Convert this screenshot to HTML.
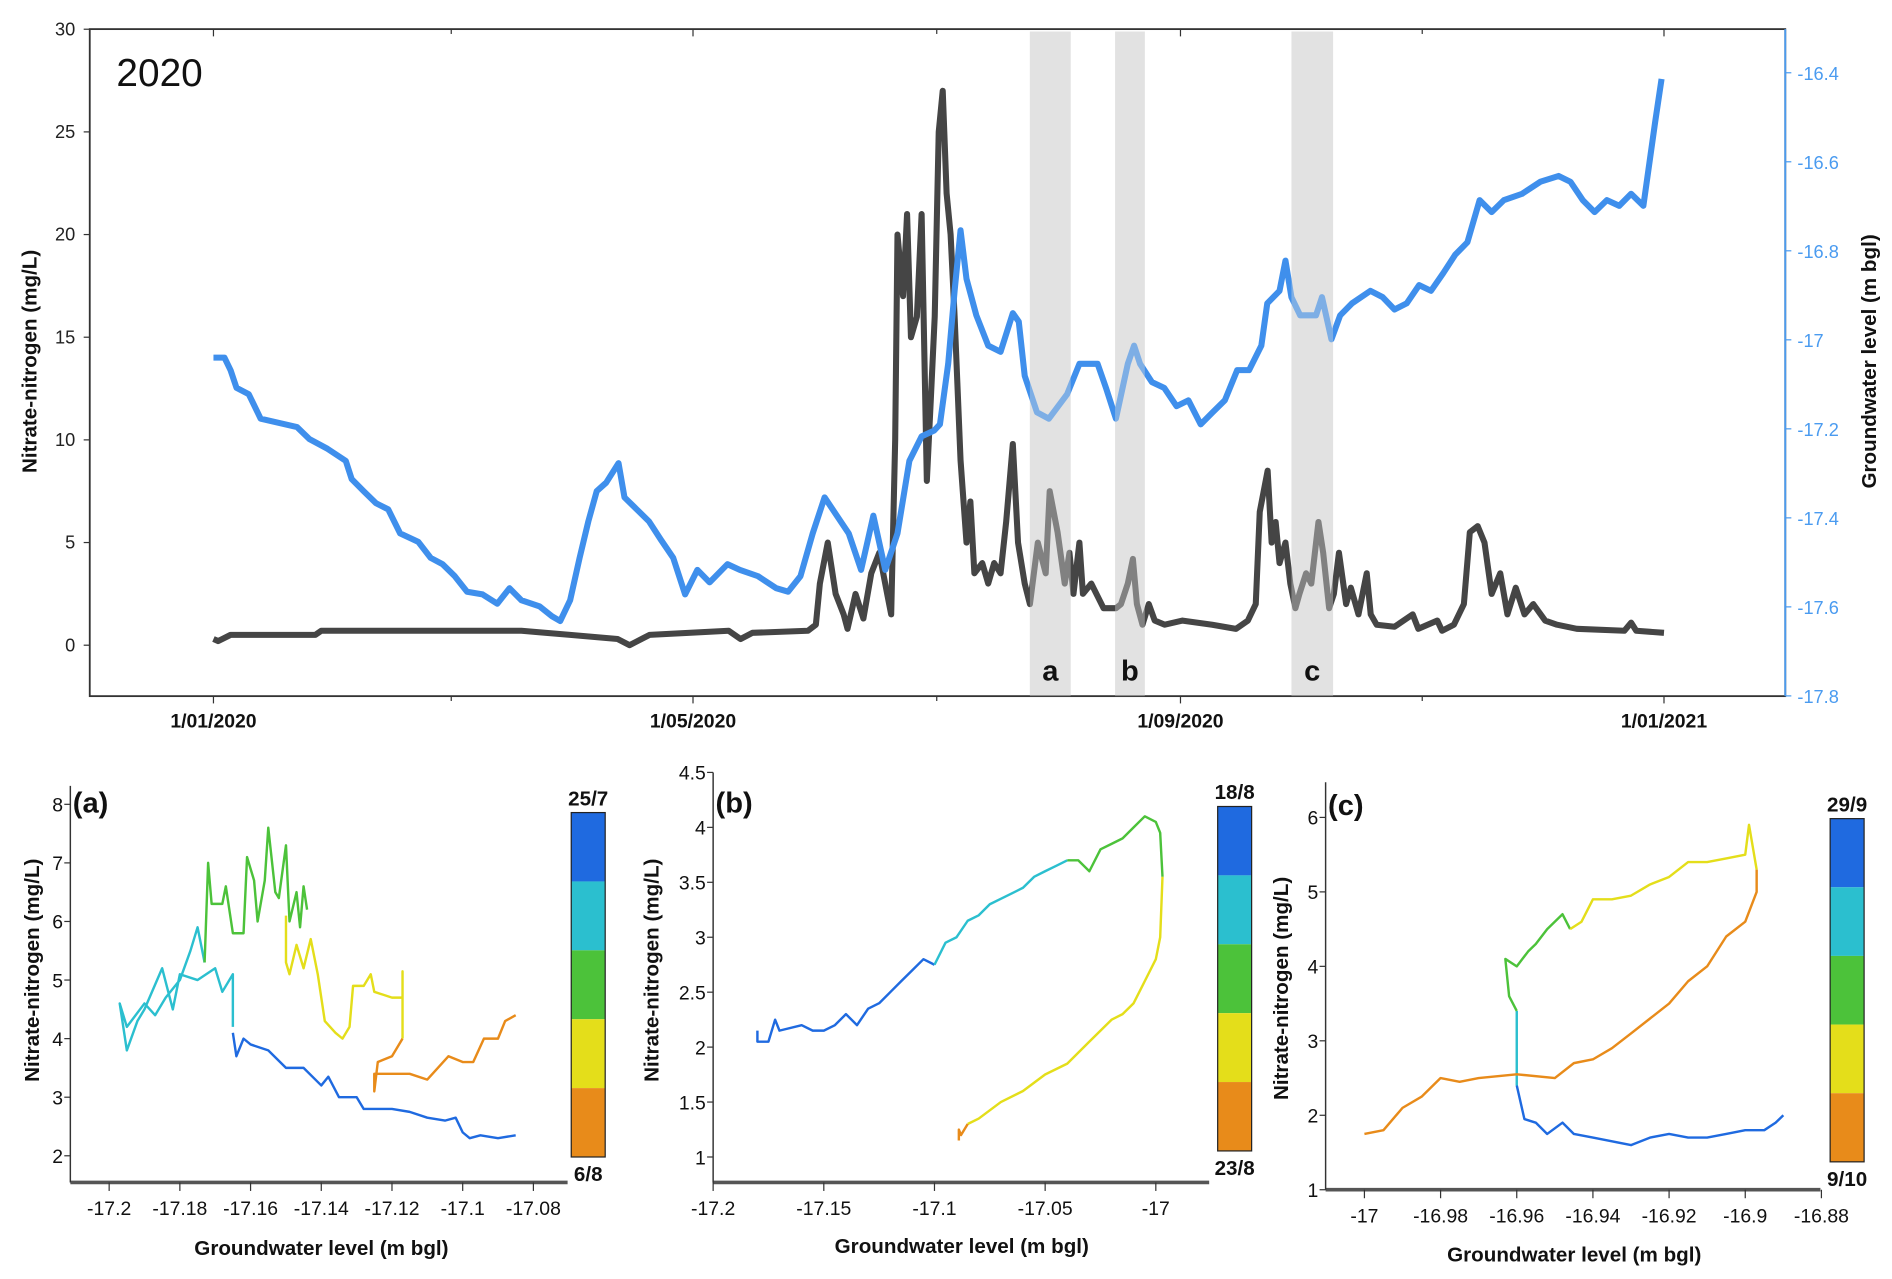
<!DOCTYPE html>
<html><head><meta charset="utf-8"><style>
html,body{margin:0;padding:0;background:#fff;}
svg{display:block;font-family:"Liberation Sans",Arial,sans-serif;}
</style></head><body>
<svg id="fig" width="1892" height="1279" viewBox="0 0 1560 1054.6" preserveAspectRatio="none" xmlns="http://www.w3.org/2000/svg">
<g id="main"></g>
<g id="pa"></g>
<g id="pb"></g>
<g id="pc"></g>
</svg>
<script>
// ===== Main chart data =====
const nitrateDays = [0,1.2,4.3,25.7,27.2,77.7,90,102,105,110,130,133,136,150,152,153,155,157,159,160,162,164,166,168,170,171,172,172.6,174,175,176,177.5,178.7,180,181,182,183,184,185,186,187,188.5,190,191,192,194,195.5,197,198.6,200,201.7,203,204.7,206,208,210,211,213,214.8,216,217,218.5,219.4,221.5,224.6,227.7,229,230.7,232,233,234.4,236,237.5,240,244.5,252,258,261,263,264,266,267,268,269,270.5,271.7,273,274,275.7,277,278.8,280,281.5,282.7,284,285.8,287,288.9,291,292,293.5,298,302.6,304,308.8,310,313,315.5,317,319,320.7,322.5,324.7,326.5,328.6,330.8,333,336,339,344,356,357.7,359,366];
const nitrateVals = [0.3,0.2,0.5,0.5,0.7,0.7,0.5,0.3,0.0,0.5,0.7,0.3,0.6,0.7,1.0,3.0,5.0,2.5,1.5,0.8,2.5,1.3,3.5,4.5,2.5,1.5,10,20,17,21,15,16,21,8,12,16,25,27,22,20,16,9,5,7,3.5,4,3,4,3.5,6,9.8,5,3,2,5,3.5,7.5,5.5,3,4.5,2.5,5,2.5,3,1.8,1.8,2.0,3,4.2,2,1.0,2,1.2,1.0,1.2,1.0,0.8,1.2,2,6.5,8.5,5,6,4,5,3,1.8,2.5,3.5,3.0,6,4.5,1.8,2.5,4.5,2,2.8,1.5,3.5,1.5,1,0.9,1.5,0.8,1.2,0.7,1.0,2,5.5,5.8,5,2.5,3.5,1.5,2.8,1.5,2,1.2,1,0.8,0.7,1.1,0.7,0.6];
const gwDays = [0,2.8,4.3,5.8,8.9,11.9,21.1,24.2,28.8,33.4,34.9,37.9,41,44.1,47.1,51.7,54.8,57.8,60.9,64,67.9,71.6,74.7,77.7,82.3,85.4,87.5,90,92.4,94.6,96.7,99.1,102.2,103.7,106.8,109.9,112.9,116,119,122.1,125.2,129.7,132.8,137.4,142,145,148.1,151.2,154.2,157.3,160.3,163.4,166.5,169.5,172.6,175.6,178.7,181.8,183.3,185.4,187,188.5,190,192.5,195.5,198.6,201.7,203.2,204.7,207.8,210.8,215.4,218.5,223.1,225.2,227.7,230.7,232.3,233.8,236.8,239.9,243,246,249.1,252.1,255.2,258.3,261.3,264.4,265.9,269,270.5,272,274.2,278.2,279.7,282.1,284.3,287.3,291.9,295,298,301.1,304.2,307.2,310.3,313.3,316.4,319.5,322.5,325.6,330.2,334.8,339.4,342.4,345.5,348.5,351.6,354.7,357.7,360.8,362.3,363.8,365.4];
const gwVals = [-17.04,-17.04,-17.068,-17.108,-17.122,-17.177,-17.196,-17.223,-17.245,-17.272,-17.313,-17.34,-17.367,-17.381,-17.435,-17.454,-17.49,-17.504,-17.531,-17.566,-17.572,-17.593,-17.558,-17.585,-17.599,-17.621,-17.632,-17.585,-17.49,-17.408,-17.34,-17.321,-17.277,-17.354,-17.381,-17.408,-17.449,-17.49,-17.572,-17.517,-17.545,-17.504,-17.517,-17.531,-17.558,-17.566,-17.531,-17.435,-17.354,-17.395,-17.435,-17.517,-17.395,-17.517,-17.435,-17.272,-17.217,-17.204,-17.19,-17.054,-16.89,-16.754,-16.863,-16.945,-17.013,-17.027,-16.94,-16.959,-17.081,-17.163,-17.177,-17.122,-17.054,-17.054,-17.108,-17.177,-17.054,-17.013,-17.054,-17.095,-17.108,-17.149,-17.136,-17.19,-17.163,-17.136,-17.068,-17.068,-17.013,-16.918,-16.89,-16.822,-16.904,-16.945,-16.945,-16.904,-16.999,-16.945,-16.918,-16.89,-16.904,-16.932,-16.918,-16.877,-16.89,-16.85,-16.809,-16.781,-16.686,-16.713,-16.686,-16.672,-16.645,-16.632,-16.645,-16.686,-16.713,-16.686,-16.699,-16.672,-16.699,-16.604,-16.509,-16.414];
const leftTicks = [0,5,10,15,20,25,30];
const rightTicks = [-16.4,-16.6,-16.8,-17,-17.2,-17.4,-17.6,-17.8];
const dateTickDays = [0,121,244,366];
const dateTickLabels = ["1/01/2020","1/05/2020","1/09/2020","1/01/2021"];
const bandStarts = [206,227.5,272];
const bandEnds = [216.3,235,282.5];
const bandLabels = ["a","b","c"];

// ===== Panel data =====
const aBlueX=[-17.085,-17.09,-17.095,-17.098,-17.1,-17.102,-17.105,-17.11,-17.115,-17.12,-17.128,-17.13,-17.135,-17.138,-17.14,-17.145,-17.15,-17.155,-17.16,-17.162,-17.164,-17.165];
const aBlueY=[2.35,2.3,2.35,2.3,2.4,2.65,2.6,2.65,2.75,2.8,2.8,3.0,3.0,3.35,3.2,3.5,3.5,3.8,3.9,4.0,3.7,4.1];
const aCyanX=[-17.165,-17.165,-17.168,-17.17,-17.175,-17.18,-17.182,-17.185,-17.19,-17.192,-17.195,-17.197,-17.195,-17.19,-17.187,-17.184,-17.18,-17.177,-17.175,-17.173];
const aCyanY=[4.2,5.1,4.8,5.2,5.0,5.1,4.5,5.2,4.5,4.3,3.8,4.6,4.2,4.6,4.4,4.7,5.0,5.5,5.9,5.3];
const aGreenX=[-17.173,-17.172,-17.171,-17.168,-17.167,-17.165,-17.162,-17.161,-17.159,-17.158,-17.156,-17.155,-17.153,-17.152,-17.15,-17.149,-17.147,-17.146,-17.145,-17.144];
const aGreenY=[5.3,7.0,6.3,6.3,6.6,5.8,5.8,7.1,6.7,6.0,6.7,7.6,6.5,6.4,7.3,6.0,6.5,5.9,6.6,6.2];
const aYellowX=[-17.15,-17.15,-17.149,-17.147,-17.145,-17.143,-17.141,-17.139,-17.136,-17.134,-17.132,-17.131,-17.128,-17.126,-17.125,-17.12,-17.117,-17.117,-17.117];
const aYellowY=[6.1,5.3,5.1,5.6,5.2,5.7,5.1,4.3,4.1,4.0,4.2,4.9,4.9,5.1,4.8,4.7,4.7,5.15,4.0];
const aOrangeX=[-17.117,-17.12,-17.124,-17.125,-17.125,-17.12,-17.115,-17.11,-17.107,-17.104,-17.1,-17.097,-17.094,-17.09,-17.088,-17.085];
const aOrangeY=[4.0,3.7,3.6,3.1,3.4,3.4,3.4,3.3,3.5,3.7,3.6,3.6,4.0,4.0,4.3,4.4];

const bBlueX=[-17.18,-17.18,-17.175,-17.172,-17.17,-17.16,-17.155,-17.15,-17.145,-17.14,-17.135,-17.13,-17.125,-17.12,-17.115,-17.11,-17.105,-17.1];
const bBlueY=[2.15,2.05,2.05,2.25,2.15,2.2,2.15,2.15,2.2,2.3,2.2,2.35,2.4,2.5,2.6,2.7,2.8,2.75];
const bCyanX=[-17.1,-17.095,-17.09,-17.085,-17.08,-17.075,-17.07,-17.065,-17.06,-17.055,-17.05,-17.045,-17.04];
const bCyanY=[2.75,2.95,3.0,3.15,3.2,3.3,3.35,3.4,3.45,3.55,3.6,3.65,3.7];
const bGreenX=[-17.04,-17.035,-17.03,-17.025,-17.02,-17.015,-17.01,-17.005,-17.0,-16.998,-16.997];
const bGreenY=[3.7,3.7,3.6,3.8,3.85,3.9,4.0,4.1,4.05,3.95,3.55];
const bYellowX=[-16.997,-16.998,-17.0,-17.005,-17.01,-17.015,-17.02,-17.03,-17.04,-17.05,-17.06,-17.07,-17.08,-17.085];
const bYellowY=[3.55,3.0,2.8,2.6,2.4,2.3,2.25,2.05,1.85,1.75,1.6,1.5,1.35,1.3];
const bOrangeX=[-17.085,-17.088,-17.089,-17.089];
const bOrangeY=[1.3,1.2,1.25,1.15];

const cBlueX=[-16.89,-16.892,-16.895,-16.9,-16.905,-16.91,-16.915,-16.92,-16.925,-16.93,-16.935,-16.94,-16.945,-16.948,-16.952,-16.955,-16.958,-16.96];
const cBlueY=[2.0,1.9,1.8,1.8,1.75,1.7,1.7,1.75,1.7,1.6,1.65,1.7,1.75,1.9,1.75,1.9,1.95,2.4];
const cCyanX=[-16.96,-16.96];
const cCyanY=[2.4,3.4];
const cGreenX=[-16.96,-16.962,-16.963,-16.96,-16.957,-16.955,-16.952,-16.948,-16.946];
const cGreenY=[3.4,3.6,4.1,4.0,4.2,4.3,4.5,4.7,4.5];
const cYellowX=[-16.946,-16.943,-16.94,-16.935,-16.93,-16.925,-16.92,-16.915,-16.91,-16.905,-16.9,-16.899,-16.897];
const cYellowY=[4.5,4.6,4.9,4.9,4.95,5.1,5.2,5.4,5.4,5.45,5.5,5.9,5.3];
const cOrangeX=[-16.897,-16.897,-16.9,-16.905,-16.91,-16.915,-16.92,-16.925,-16.93,-16.935,-16.94,-16.945,-16.95,-16.96,-16.97,-16.975,-16.98,-16.985,-16.99,-16.995,-17.0];
const cOrangeY=[5.3,5.0,4.6,4.4,4.0,3.8,3.5,3.3,3.1,2.9,2.75,2.7,2.5,2.55,2.5,2.45,2.5,2.25,2.1,1.8,1.75];

const NS="http://www.w3.org/2000/svg";
function mk(parent,tag,attrs,txt){const e=document.createElementNS(NS,tag);for(const k in attrs)e.setAttribute(k,attrs[k]);if(txt!==undefined)e.textContent=txt;parent.appendChild(e);return e;}

// ===== Main chart =====
(function(){
const g=document.getElementById('main');
const L=74,R=1472,T=24,B=574;
const x=d=>176+d*(1196/366);
const yL=v=>532-v*16.93;
const yR=v=>60+(-16.4-v)*367;
// bands background
bandStarts.forEach((s,i)=>{
  const r=mk(g,'rect',{x:x(s),y:26,width:x(bandEnds[i])-x(s),height:B-26,fill:'#e6e6e6'});
  
  
});
// frame
const fr=mk(g,'rect',{x:L,y:T,width:R-L,height:B-T,fill:'none',stroke:'#333','stroke-width':1.5});


mk(g,'line',{x1:R,y1:T,x2:R,y2:B,stroke:'#4a9bf0','stroke-width':1.5});
// series
let p=nitrateDays.map((d,i)=>x(d).toFixed(1)+','+yL(nitrateVals[i]).toFixed(1)).join(' ');
const nl=mk(g,'polyline',{points:p,fill:'none',stroke:'#454545','stroke-width':5,'stroke-linejoin':'round'});


p=gwDays.map((d,i)=>x(d).toFixed(1)+','+yR(gwVals[i]).toFixed(1)).join(' ');
const gl=mk(g,'polyline',{points:p,fill:'none',stroke:'#3f8fec','stroke-width':5,'stroke-linejoin':'round'});


// band overlays
bandStarts.forEach((s,i)=>{
  mk(g,'rect',{x:x(s),y:26,width:x(bandEnds[i])-x(s),height:B-26,fill:'#dddddd','fill-opacity':0.4});
  const t=mk(g,'text',{x:(x(s)+x(bandEnds[i]))/2,y:561,'text-anchor':'middle','font-size':24,'font-weight':'bold',fill:'#111'},bandLabels[i]);
  
  
});
// left ticks
leftTicks.forEach(v=>{
  mk(g,'line',{x1:L-5,y1:yL(v),x2:L,y2:yL(v),stroke:'#333'});
  const t=mk(g,'text',{x:L-12,y:yL(v)+5,'text-anchor':'end','font-size':15,fill:'#222'},String(v));
  
  
});
rightTicks.forEach(v=>{
  mk(g,'line',{x1:R,y1:yR(v),x2:R+5,y2:yR(v),stroke:'#4a9bf0'});
  const t=mk(g,'text',{x:R+10,y:yR(v)+6,'font-size':15,fill:'#4a9bf0'},String(v));
  
  
});
dateTickDays.forEach((d,i)=>{
  mk(g,'line',{x1:x(d),y1:B,x2:x(d),y2:B+6,stroke:'#333'});
  mk(g,'line',{x1:x(d),y1:T,x2:x(d),y2:T+6,stroke:'#333'});
  const t=mk(g,'text',{x:x(d),y:600,'text-anchor':'middle','font-size':16,'font-weight':'bold',fill:'#111'},dateTickLabels[i]);
  
  
});
[60,182.5,305].forEach(d=>{mk(g,'line',{x1:x(d),y1:B,x2:x(d),y2:B+4,stroke:'#333'});mk(g,'line',{x1:x(d),y1:T,x2:x(d),y2:T+4,stroke:'#333'});});
let t=mk(g,'text',{x:96,y:71,'font-size':32,fill:'#111'},'2020');

t=mk(g,'text',{transform:'translate(30,298) rotate(-90)','text-anchor':'middle','font-size':17,'font-weight':'bold',fill:'#111'},'Nitrate-nitrogen (mg/L)');

t=mk(g,'text',{transform:'translate(1547,298) rotate(-90)','text-anchor':'middle','font-size':17,'font-weight':'bold',fill:'#111'},'Groundwater level (m bgl)');

})();

// ===== Scatter panels =====
const COLORS=['#1f6ae0','#2bbfcf','#4cc23a','#e4de1a','#e88b1a'];
function panel(id,cfg,series){
  const g=document.getElementById(id);
  const x=v=>cfg.x0px+(v-cfg.x0)*cfg.xs;
  const y=v=>cfg.y0px-(v-cfg.y0)*cfg.ys;
  // axes
  const ax=mk(g,'line',{x1:cfg.axL,y1:cfg.axB,x2:cfg.axR,y2:cfg.axB,stroke:'#555','stroke-width':3});
  
  const ay=mk(g,'line',{x1:cfg.axL,y1:cfg.axT,x2:cfg.axL,y2:cfg.axB,stroke:'#333','stroke-width':1.2});
  
  cfg.yt.forEach(v=>{
    mk(g,'line',{x1:cfg.axL-5,y1:y(v),x2:cfg.axL,y2:y(v),stroke:'#333'});
    const t=mk(g,'text',{x:cfg.axL-6,y:y(v)+6,'text-anchor':'end','font-size':16,fill:'#111'},String(v));
    
  });
  cfg.xt.forEach(v=>{
    mk(g,'line',{x1:x(v),y1:cfg.axB,x2:x(v),y2:cfg.axB+7,stroke:'#333'});
    const t=mk(g,'text',{x:x(v),y:cfg.axB+27,'text-anchor':'middle','font-size':16,fill:'#111'},String(v));
    
  });
  series.forEach((s,i)=>{
    const pl=mk(g,'polyline',{points:s[0].map((v,j)=>x(v).toFixed(1)+','+y(s[1][j]).toFixed(1)).join(' '),fill:'none',stroke:COLORS[i],'stroke-width':2,'stroke-linejoin':'round'});
    
    
  });
  // colorbar
  const h=(cfg.cbB-cfg.cbT)/5;
  COLORS.forEach((c,i)=>{
    const r=mk(g,'rect',{x:cfg.cbX,y:cfg.cbT+i*h,width:28,height:h,fill:c});
    
  });
  mk(g,'rect',{x:cfg.cbX,y:cfg.cbT,width:28,height:cfg.cbB-cfg.cbT,fill:'none',stroke:'#222','stroke-width':1});
  let t=mk(g,'text',{x:cfg.cbX+14,y:cfg.cbT-6,'text-anchor':'middle','font-size':17,'font-weight':'bold',fill:'#111'},cfg.top);
  
  t=mk(g,'text',{x:cfg.cbX+14,y:cfg.cbB+20,'text-anchor':'middle','font-size':17,'font-weight':'bold',fill:'#111'},cfg.bot);
  
  t=mk(g,'text',{x:cfg.axL+2,y:cfg.lblY,'font-size':24,'font-weight':'bold',fill:'#111'},cfg.lbl);
  
  t=mk(g,'text',{x:cfg.xtc,y:cfg.xty,'text-anchor':'middle','font-size':17,'font-weight':'bold',fill:'#111'},'Groundwater level (m bgl)');
  
  t=mk(g,'text',{transform:'translate('+cfg.ytx+','+cfg.yty+') rotate(-90)','text-anchor':'middle','font-size':17,'font-weight':'bold',fill:'#111'},'Nitrate-nitrogen (mg/L)');
  
}
panel('pa',{x0:-17.2,x0px:90,xs:2915,y0:2,y0px:953,ys:48.3,axL:58,axR:468,axT:648,axB:975,
  yt:[2,3,4,5,6,7,8],xt:[-17.2,-17.18,-17.16,-17.14,-17.12,-17.1,-17.08],
  cbX:471,cbT:670,cbB:954,top:'25/7',bot:'6/8',lbl:'(a)',lblY:670,xtc:265,xty:1035,ytx:32,yty:800},
  [[aBlueX,aBlueY],[aCyanX,aCyanY],[aGreenX,aGreenY],[aYellowX,aYellowY],[aOrangeX,aOrangeY]]);
panel('pb',{x0:-17.2,x0px:588,xs:1825,y0:1,y0px:954,ys:90.6,axL:588,axR:997,axT:637,axB:975,
  yt:[1,1.5,2,2.5,3,3.5,4,4.5],xt:[-17.2,-17.15,-17.1,-17.05,-17],
  cbX:1004,cbT:665,cbB:949,top:'18/8',bot:'23/8',lbl:'(b)',lblY:670,xtc:793,xty:1033,ytx:543,yty:800},
  [[bBlueX,bBlueY],[bCyanX,bCyanY],[bGreenX,bGreenY],[bYellowX,bYellowY],[bOrangeX,bOrangeY]]);
panel('pc',{x0:-17,x0px:1125,xs:3140,y0:1,y0px:981,ys:61.4,axL:1093,axR:1501,axT:645,axB:981,
  yt:[1,2,3,4,5,6],xt:[-17,-16.98,-16.96,-16.94,-16.92,-16.9,-16.88],
  cbX:1509,cbT:675,cbB:958,top:'29/9',bot:'9/10',lbl:'(c)',lblY:672,xtc:1298,xty:1040,ytx:1062,yty:815},
  [[cBlueX,cBlueY],[cCyanX,cCyanY],[cGreenX,cGreenY],[cYellowX,cYellowY],[cOrangeX,cOrangeY]]);
</script>
</body></html>
